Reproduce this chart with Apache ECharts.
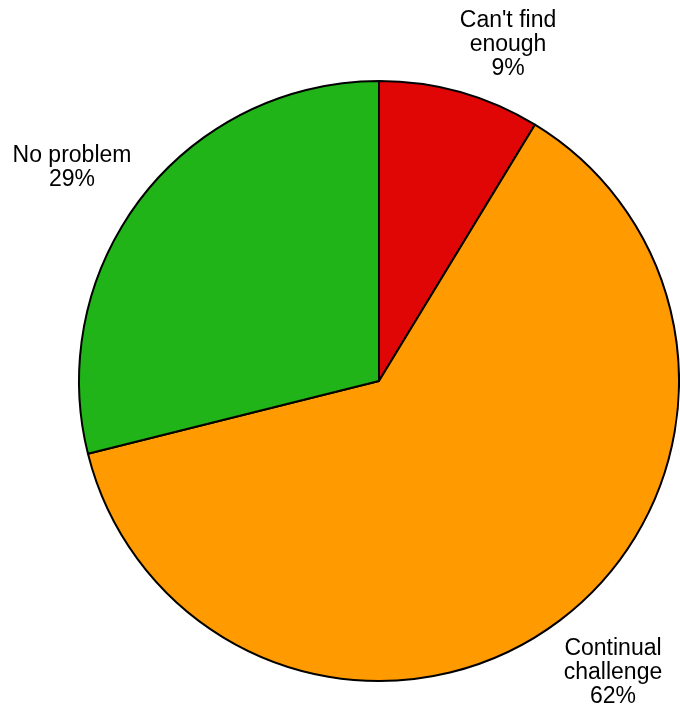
<!DOCTYPE html>
<html>
<head>
<meta charset="utf-8">
<script src="https://cdn.jsdelivr.net/npm/echarts@6/dist/echarts.min.js"></script>
<style>
  html, body { margin: 0; padding: 0; background: #fff; }
  #chart { width: 680px; height: 707px; }
</style>
</head>
<body>
<div id="chart"></div>
<script>
let categories = ["Can't find\nenough", 'Continual\nchallenge', 'No problem'];
let values = [8.7, 62.4, 28.9];
let colors = ['#e00606', '#ff9a00', '#20b418'];

// label anchor points (pixel centres of each text block)
let labelPos = [[508, 45], [613, 673], [72, 168]];

let chart = echarts.init(document.getElementById('chart'));

let pieData = categories.map(function (name, i) {
    return { name: name, value: values[i], itemStyle: { color: colors[i] } };
});

let option = {
    animation: false,
    series: [{
        type: 'pie',
        center: [379, 381],
        radius: 300,
        startAngle: 90,
        clockwise: true,
        data: pieData,
        itemStyle: {
            borderColor: '#000',
            borderWidth: 2
        },
        label: {
            show: true,
            position: 'outside',
            overflow: 'none',
            formatter: function (p) {
                return p.name + '\n' + Math.round(p.value) + '%';
            },
            color: '#000',
            fontFamily: 'Liberation Sans, Arial, sans-serif',
            fontSize: 23,
            lineHeight: 24,
            align: 'center'
        },
        labelLine: { show: false },
        labelLayout: function (params) {
            let pos = labelPos[params.dataIndex];
            return {
                x: pos[0],
                y: pos[1],
                align: 'center',
                verticalAlign: 'middle'
            };
        },
        emphasis: { disabled: true }
    }]
};

chart.setOption(option);
</script>
</body>
</html>
